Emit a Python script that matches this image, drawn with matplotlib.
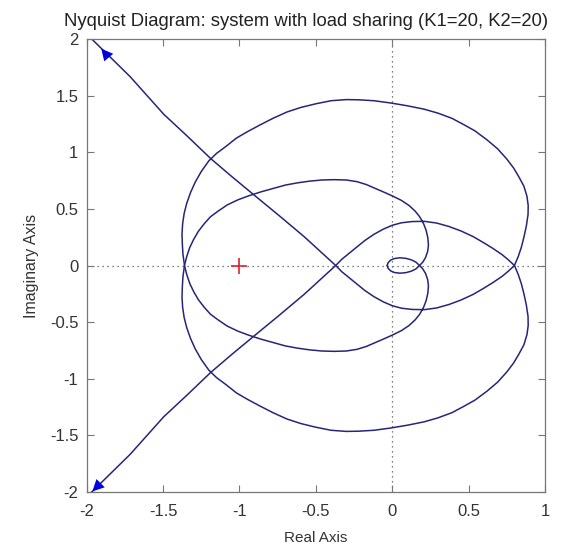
import matplotlib
matplotlib.use("Agg")
import matplotlib.pyplot as plt
import numpy as np

plt.rcParams['font.family'] = ['Liberation Sans', 'DejaVu Sans']
plt.rcParams['axes.unicode_minus'] = False

# positive-frequency branch of the Nyquist curve
# (the negative-frequency branch is its mirror image about the real axis)
re_pos = [
    # long line coming in from the top-left
    -1.967, -1.716, -1.496, -1.34, -1.189, -1.05, -0.905, -0.74, -0.576, -0.473,
    -0.37,
    # small arc under the axis
    -0.33, -0.28, -0.23, -0.18, -0.12, -0.06, 0.0, 0.06, 0.13, 0.21, 0.29,
    0.37, 0.45, 0.53, 0.60, 0.66, 0.72, 0.76, 0.80,
    # big arc over the top
    0.825, 0.845, 0.862, 0.878, 0.889, 0.89, 0.882, 0.862, 0.83, 0.795, 0.75,
    0.69, 0.62, 0.54, 0.46, 0.39, 0.30, 0.21, 0.10, -0.01, -0.12, -0.22, -0.30,
    -0.40, -0.50, -0.60, -0.69, -0.78, -0.87, -0.95, -1.02, -1.09, -1.15, -1.20,
    -1.25, -1.29, -1.32, -1.345, -1.362, -1.372, -1.376, -1.374, -1.37, -1.36,
    # medium arc under the axis
    -1.345, -1.325, -1.30, -1.27, -1.23, -1.19, -1.14, -1.08, -1.01, -0.94,
    -0.86, -0.78, -0.70, -0.62, -0.54, -0.46, -0.38, -0.30, -0.23, -0.17, -0.11,
    -0.05, 0.0, 0.06, 0.11, 0.15, 0.18, 0.205, 0.222, 0.233, 0.237, 0.232, 0.218,
    0.20, 0.179,
    # tiny loop near the origin
    0.155, 0.125, 0.09, 0.05, 0.015, -0.01, -0.027, -0.033,
]
im_pos = [
    2.0, 1.668, 1.336, 1.14, 0.945, 0.785, 0.623, 0.44, 0.254, 0.127,
    0.0,
    -0.055, -0.11, -0.165, -0.22, -0.275, -0.32, -0.355, -0.377, -0.388, -0.39,
    -0.375, -0.345, -0.305, -0.255, -0.20, -0.15, -0.095, -0.05, 0.0,
    0.08, 0.16, 0.25, 0.35, 0.45, 0.53, 0.61, 0.70, 0.78, 0.86, 0.94,
    1.03, 1.11, 1.19, 1.25, 1.30, 1.345, 1.38, 1.41, 1.435, 1.455, 1.463, 1.465,
    1.455, 1.428, 1.395, 1.355, 1.30, 1.238, 1.18, 1.125, 1.05, 0.99, 0.925,
    0.83, 0.735, 0.645, 0.55, 0.46, 0.37, 0.28, 0.19, 0.10, 0.0,
    -0.08, -0.16, -0.23, -0.30, -0.37, -0.43, -0.48, -0.535, -0.58, -0.615,
    -0.65, -0.68, -0.71, -0.73, -0.745, -0.755, -0.758, -0.755, -0.74, -0.715,
    -0.68, -0.645, -0.615, -0.575, -0.53, -0.48, -0.43, -0.37, -0.31, -0.245,
    -0.18, -0.125, -0.07, -0.03, 0.0,
    0.03, 0.05, 0.063, 0.068, 0.062, 0.048, 0.025, 0.0,
]

# direction arrows (tail -> tip)
arrow_tail = [(-1.855, 1.835), (-1.90, -1.91)]
arrow_tip = [(-1.905, 1.915), (-1.963, -1.995)]

critical_pt = (-1, 0)

x_ticks = [-2, -1.5, -1, -0.5, 0, 0.5, 1]
y_ticks = [-2, -1.5, -1, -0.5, 0, 0.5, 1, 1.5, 2]

re_pos = np.array(re_pos)
im_pos = np.array(im_pos)

fig = plt.figure(figsize=(5.63, 5.49), dpi=100)
ax = fig.add_axes([86.7 / 563, 1 - 492 / 549, (545 - 86.7) / 563, (492 - 39) / 549])

line_col = '#262678'
ax.axhline(0, color='#555555', ls=(0, (1, 3)), lw=0.9, zorder=1)
ax.axvline(0, color='#555555', ls=(0, (1, 3)), lw=0.9, zorder=1)

ax.plot(re_pos, im_pos, color=line_col, lw=1.1, zorder=2)
ax.plot(re_pos, -im_pos, color=line_col, lw=1.1, zorder=2)

for tail, tip in zip(arrow_tail, arrow_tip):
    ax.annotate('', xy=tip, xytext=tail, zorder=3,
                arrowprops=dict(arrowstyle='-|>,head_length=0.7,head_width=0.35',
                                color='#0000e0', lw=0, shrinkA=0, shrinkB=0,
                                mutation_scale=12))

ax.plot(*critical_pt, marker='+', color='#e02030', ms=11, mew=1.2, zorder=3)

ax.set_xlim(-2, 1)
ax.set_ylim(-2, 2)
ax.set_xticks(x_ticks)
ax.set_yticks(y_ticks)
ax.set_xticklabels([f'{t:g}' for t in x_ticks])
ax.set_yticklabels([f'{t:g}' for t in y_ticks])
ax.tick_params(direction='in', top=True, right=True, length=5, width=0.8,
               colors='#777777', labelcolor='#333333', labelsize=12)
ax.tick_params(axis='x', pad=9)
ax.tick_params(axis='y', pad=6)
for s in ax.spines.values():
    s.set_color('#777777')
    s.set_linewidth(0.9)

ax.set_xlabel('Real Axis', fontsize=11, color='#333333', labelpad=8)
ax.set_ylabel('Imaginary Axis', fontsize=11.5, color='#333333', labelpad=8)
ax.set_title('Nyquist Diagram: system with load sharing (K1=20, K2=20)',
             fontsize=13.3, color='#222222', pad=9, x=0.478)

fig.savefig('out.png', dpi=100)
